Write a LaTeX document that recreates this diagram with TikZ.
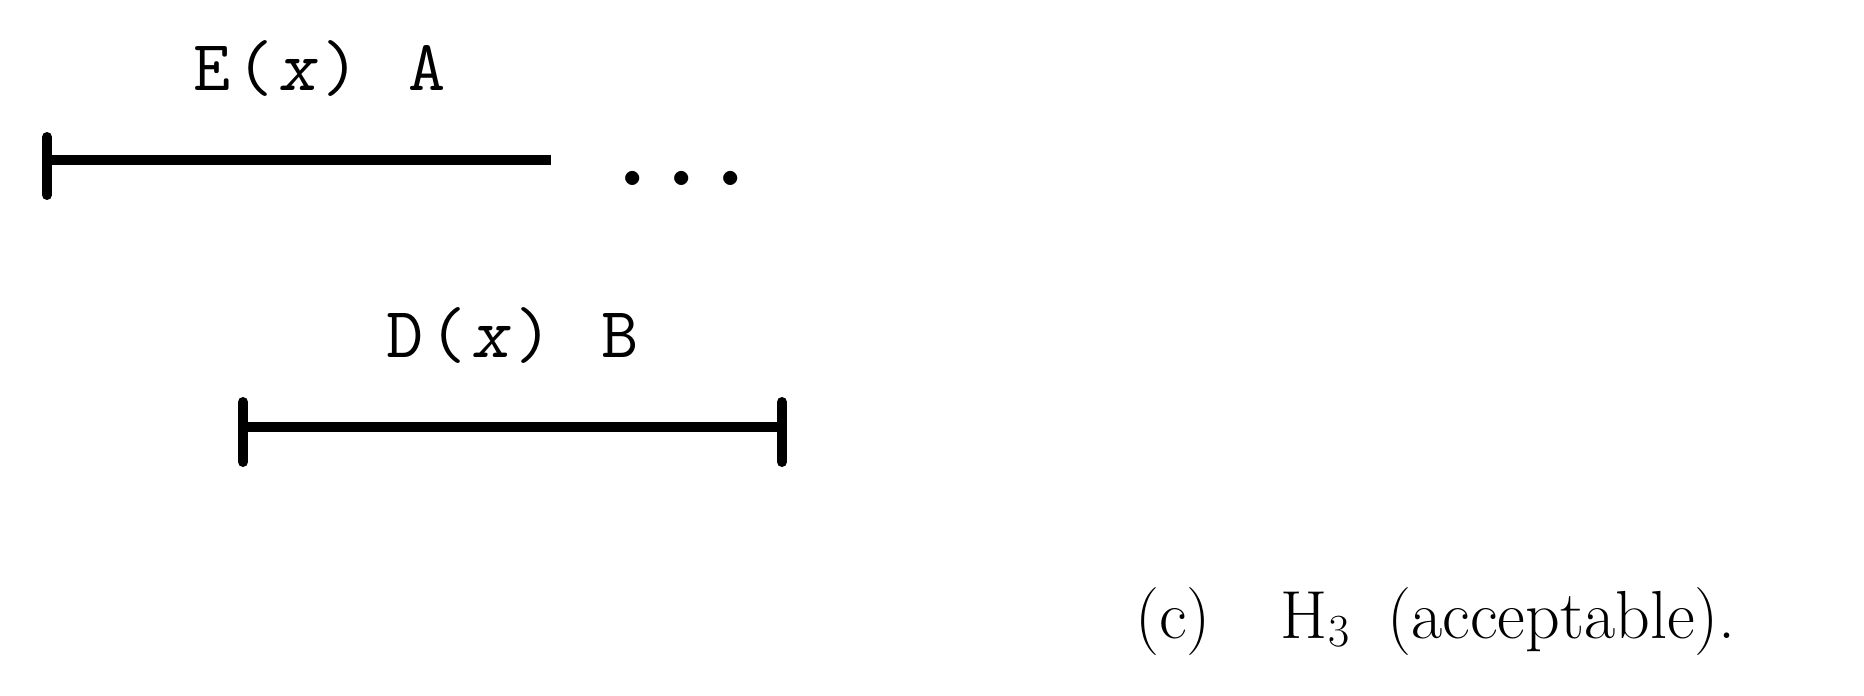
\documentclass[tikz,border=0pt]{standalone}
\newcommand\tcell[1]{\makebox[43pt][c]{#1}}
\newcommand\dcell[1]{\makebox[49pt][c]{#1}}
\tikzset{
  barline/.style={line width=10pt, line cap=butt},
  tickline/.style={line width=10pt, line cap=round},
  lbl/.style={inner sep=0pt, anchor=base west, font=\fontsize{72}{72}\selectfont\ttfamily},
  dotlbl/.style={inner sep=0pt, anchor=base west, font=\fontsize{125}{125}\selectfont\ttfamily},
  capt/.style={inner sep=0pt, anchor=base west, font=\fontsize{68}{80}\selectfont\rmfamily},
}
\begin{document}
\begin{tikzpicture}[x=1pt,y=-1pt]
\useasboundingbox (0,0) rectangle (1864,696);
% top interval
\node[lbl] (eA) at (190,90) {\tcell{E}\tcell{(}\tcell{\slshape x}\tcell{)}\tcell{ }\tcell{A}};
\coordinate (a1) at (47,160);
\coordinate (a2) at (551,160);
\coordinate (a1t) at (47,137);
\coordinate (a1b) at (47,195);
\draw[barline] (a1) -- (a2);
\draw[tickline] (a1t) -- (a1b);
\node[dotlbl] (dots) at (608,185) {\dcell{.}\dcell{.}\dcell{.}};
% bottom interval
\node[lbl] (dB) at (383,357) {\tcell{D}\tcell{(}\tcell{\slshape x}\tcell{)}\tcell{ }\tcell{B}};
\coordinate (b1) at (243,427);
\coordinate (b2) at (782,427);
\coordinate (b1t) at (243,402);
\coordinate (b1b) at (243,462);
\coordinate (b2t) at (782,402);
\coordinate (b2b) at (782,462);
\draw[barline] (b1) -- (b2);
\draw[tickline] (b1t) -- (b1b);
\draw[tickline] (b2t) -- (b2b);
% caption
\node[capt] (cap) at (1135,638) {(c)\hspace{70pt}H\raisebox{-8pt}{\fontsize{46}{46}\selectfont 3}\hspace{38pt}(acceptable).};
\end{tikzpicture}
\end{document}
